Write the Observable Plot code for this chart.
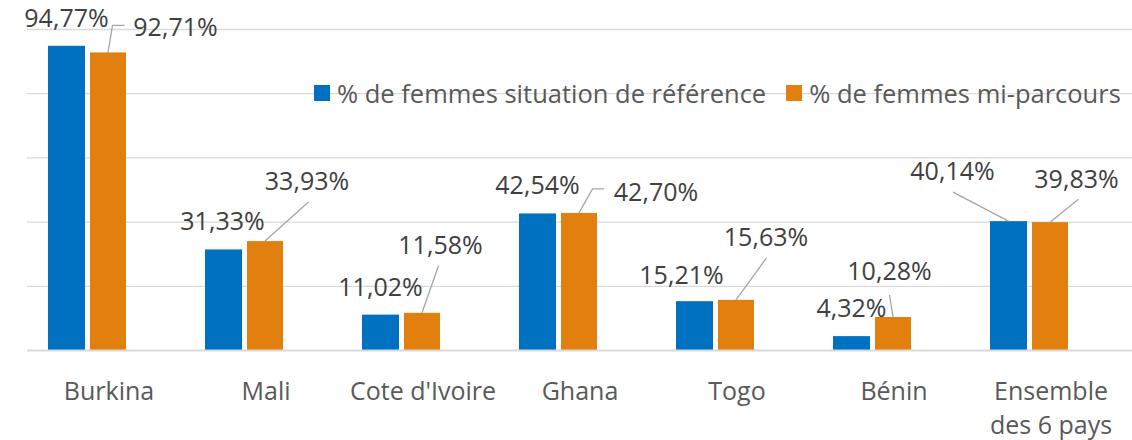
<!DOCTYPE html>
<html>
<head>
<meta charset="utf-8">
<script src="https://cdn.jsdelivr.net/npm/d3@7"></script>
<script src="https://cdn.jsdelivr.net/npm/@observablehq/plot@0.6"></script>
<style>
  html, body { margin: 0; padding: 0; background: #fff; }
  #wrap { position: relative; width: 1132px; height: 440px; font-family: "Open Sans", sans-serif; }
  #legend { position: absolute; left: 314px; top: 76px; display: flex; align-items: center; font-size: 25.5px; color: #595959; white-space: nowrap; }
  #legend .item { display: flex; align-items: center; margin-right: 20px; }
  #legend .sw { width: 16px; height: 16px; margin-right: 7px; }
</style>
</head>
<body>
<div id="wrap"><div id="legend"></div></div>
<script>
// ---- data ----
const categories = ["Burkina", "Mali", "Cote d'Ivoire", "Ghana", "Togo", "Bénin", "Ensemble des 6 pays"];
const categoryLabels = ["Burkina", "Mali", "Cote d'Ivoire", "Ghana", "Togo", "Bénin", "Ensemble\ndes 6 pays"];
const seriesNames = ["% de femmes situation de référence", "% de femmes mi-parcours"];
const valuesRef = [94.77, 31.33, 11.02, 42.54, 15.21, 4.32, 40.14];
const valuesMi = [92.71, 33.93, 11.58, 42.70, 15.63, 10.28, 39.83];
const yTicks = [0, 20, 40, 60, 80, 100];

// ---- layout (label placement relative to bar top, in px) ----
const colors = ["#0070C0", "#E2800F"];
const slots = [{left: 18, right: 102}, {left: 60, right: 61}];
const labelOffsets = [
  [[0, -28], [-1, -28], [0, -28], [0, -28], [-13, -26], [0, -28], [-56, -50]],
  [[67.5, -25], [42, -60], [18.5, -68], [77, -21], [30, -63], [-3.5, -46.5], [26.5, -43.6]]
];
const leaders = [
  [null, null, null, null, null, null, [[-55.5, -29]]],
  [[[4.5, -27], [16.5, -27]], [[43.5, -39]], [[16.5, -47]], [[13.5, -24], [25, -24]], [[30.5, -42]], [[-3.5, -22]], [[28.5, -23]]]
];

const rows = [];
categories.forEach((c, i) => {
  rows.push({category: c, series: 0, value: valuesRef[i], idx: i});
  rows.push({category: c, series: 1, value: valuesMi[i], idx: i});
});
const fmt = v => v.toFixed(2).replace(".", ",") + "%";

const labelMark = (index, scales, values, dimensions) => {
  const sx = scales.x, sy = scales.y;
  const bw = typeof sx.bandwidth === "function" ? sx.bandwidth() : sx.bandwidth;
  const g = d3.create("svg:g");
  rows.forEach(r => {
    const s = slots[r.series];
    const x0 = sx(r.category) + s.left;
    const x1 = sx(r.category) + bw - s.right;
    const cx = (x0 + x1) / 2;
    const cy = sy(r.value);
    const lead = leaders[r.series][r.idx];
    if (lead) {
      const pts = [[cx, cy]].concat(lead.map(p => [cx + p[0], cy + p[1]]));
      g.append("path")
        .attr("d", d3.line()(pts))
        .attr("fill", "none")
        .attr("stroke", "#A6A6A6")
        .attr("stroke-width", 1.3);
    }
    const off = labelOffsets[r.series][r.idx];
    g.append("text")
      .attr("x", cx + off[0])
      .attr("y", cy + off[1])
      .attr("dy", "0.36em")
      .attr("text-anchor", "middle")
      .attr("fill", "#404040")
      .attr("font-size", 25)
      .attr("font-family", "'Open Sans', sans-serif")
      .text(fmt(r.value));
  });
  return g.node();
};

const chart = Plot.plot({
  width: 1132,
  height: 440,
  marginLeft: 27,
  marginRight: 0,
  marginTop: 29,
  marginBottom: 90,
  style: {fontFamily: "'Open Sans', sans-serif", background: "#fff"},
  x: {domain: categories, padding: 0, axis: null},
  y: {domain: [0, 100], axis: null},
  marks: [
    Plot.ruleY(yTicks.filter(d => d !== 0), {stroke: "#D9D9D9", strokeWidth: 1.3}),
    Plot.barY(rows.filter(r => r.series === 0), {x: "category", y: "value", fill: colors[0], insetLeft: slots[0].left, insetRight: slots[0].right}),
    Plot.barY(rows.filter(r => r.series === 1), {x: "category", y: "value", fill: colors[1], insetLeft: slots[1].left, insetRight: slots[1].right}),
    Plot.ruleY([0], {stroke: "#D9D9D9", strokeWidth: 2}),
    Plot.text(categories, {
      x: d => d,
      text: (d, i) => categoryLabels[i],
      frameAnchor: "bottom",
      lineAnchor: "top",
      dy: 25,
      lineHeight: 1.36,
      fontSize: 25,
      fill: "#595959"
    }),
    labelMark
  ]
});
const wrap = document.getElementById("wrap");
wrap.insertBefore(chart, wrap.firstChild);

const legend = document.getElementById("legend");
seriesNames.forEach((name, i) => {
  const item = document.createElement("div");
  item.className = "item";
  const sw = document.createElement("div");
  sw.className = "sw";
  sw.style.background = colors[i];
  const t = document.createElement("span");
  t.textContent = name;
  item.appendChild(sw);
  item.appendChild(t);
  legend.appendChild(item);
});
</script>
</body>
</html>
